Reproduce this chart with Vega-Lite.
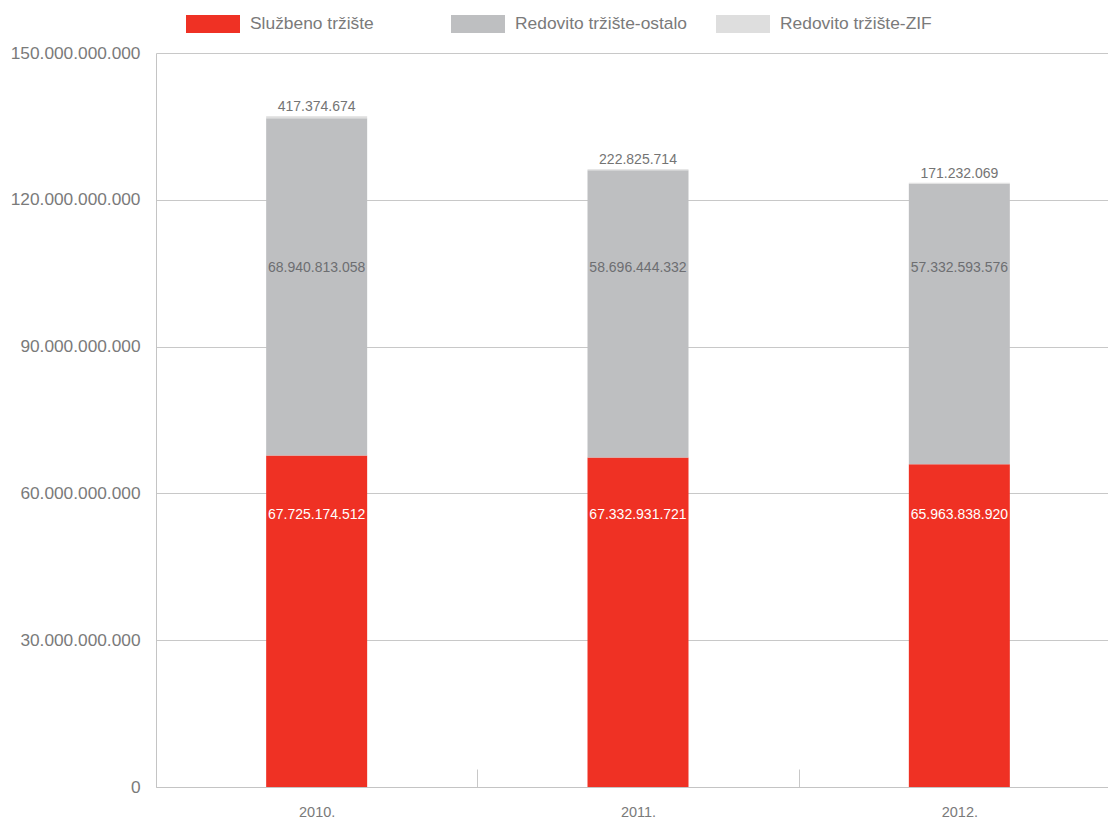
{
  "$schema": "https://vega.github.io/schema/vega-lite/v6.json",
  "width": 964,
  "height": 734,
  "autosize": {"type": "none"},
  "padding": {"left": 156, "top": 53, "right": 0, "bottom": 32},
  "background": "white",
  "config": {
    "locale": {"number": {"decimal": ",", "thousands": ".", "grouping": [3], "currency": ["", ""]}},
    "font": "Liberation Sans",
    "view": {"stroke": null}
  },
  "data": {
    "values": [
      {"year": "2010.", "series": "Službeno tržište", "rank": 1, "value": 67725174512},
      {"year": "2010.", "series": "Redovito tržište-ostalo", "rank": 2, "value": 68940813058},
      {"year": "2010.", "series": "Redovito tržište-ZIF", "rank": 3, "value": 417374674},
      {"year": "2011.", "series": "Službeno tržište", "rank": 1, "value": 67332931721},
      {"year": "2011.", "series": "Redovito tržište-ostalo", "rank": 2, "value": 58696444332},
      {"year": "2011.", "series": "Redovito tržište-ZIF", "rank": 3, "value": 222825714},
      {"year": "2012.", "series": "Službeno tržište", "rank": 1, "value": 65963838920},
      {"year": "2012.", "series": "Redovito tržište-ostalo", "rank": 2, "value": 57332593576},
      {"year": "2012.", "series": "Redovito tržište-ZIF", "rank": 3, "value": 171232069}
    ]
  },
  "encoding": {
    "x": {
      "field": "year",
      "type": "nominal",
      "scale": {"paddingInner": 0, "paddingOuter": 0},
      "axis": {
        "title": null,
        "labelAngle": 0,
        "labelFontSize": 14.5,
        "labelColor": "#7a7a7a",
        "labelPadding": 36,
        "domainColor": "#c4c4c4",
        "tickColor": "#c8c8c8",
        "tickSize": -18,
        "tickBand": "extent",
        "grid": false
      }
    }
  },
  "layer": [
    {
      "mark": {"type": "bar", "size": 101},
      "encoding": {
        "y": {
          "field": "value",
          "type": "quantitative",
          "stack": "zero",
          "scale": {"domain": [0, 150000000000], "nice": false},
          "axis": {
            "title": null,
            "values": [0, 30000000000, 60000000000, 90000000000, 120000000000, 150000000000],
            "format": ",d",
            "labelFontSize": 17.3,
            "labelColor": "#7a7a7a",
            "labelPadding": 16,
            "ticks": false,
            "domain": true,
            "domainColor": "#c4c4c4",
            "grid": true,
            "gridColor": "#c8c8c8"
          }
        },
        "color": {
          "field": "series",
          "type": "nominal",
          "scale": {
            "domain": ["Službeno tržište", "Redovito tržište-ostalo", "Redovito tržište-ZIF"],
            "range": ["#ef3124", "#bebfc1", "#dedede"]
          },
          "legend": {
            "title": null,
            "orient": "none",
            "direction": "horizontal",
            "legendX": 30,
            "legendY": -56,
            "columns": 3,
            "gridAlign": "all",
            "columnPadding": 28,
            "padding": 0,
            "symbolType": "M-1,-0.333H1V0.333H-1Z",
            "symbolSize": 2916,
            "symbolStrokeWidth": 0,
            "symbolOpacity": 1,
            "labelFontSize": 17.4,
            "labelColor": "#7a7a7a",
            "labelOffset": 10,
            "labelLimit": 300
          }
        },
        "order": {"field": "rank", "type": "quantitative"}
      }
    },
    {
      "transform": [{"filter": "datum.rank == 1"}],
      "mark": {"type": "text", "fontSize": 14, "color": "#ffffff", "baseline": "middle"},
      "encoding": {
        "y": {"datum": 55600000000, "type": "quantitative"},
        "text": {"field": "value", "type": "quantitative", "format": ",d"}
      }
    },
    {
      "transform": [{"filter": "datum.rank == 2"}],
      "mark": {"type": "text", "fontSize": 14, "color": "#6d6e71", "baseline": "middle"},
      "encoding": {
        "y": {"datum": 106100000000, "type": "quantitative"},
        "text": {"field": "value", "type": "quantitative", "format": ",d"}
      }
    },
    {
      "mark": {"type": "text", "fontSize": 14, "color": "#747474", "baseline": "bottom", "dy": -2},
      "encoding": {
        "y": {"field": "value", "type": "quantitative", "stack": "zero"},
        "order": {"field": "rank", "type": "quantitative"},
        "text": {
          "condition": {"test": "datum.rank == 3", "field": "value", "type": "quantitative", "format": ",d"},
          "value": ""
        }
      }
    }
  ]
}
